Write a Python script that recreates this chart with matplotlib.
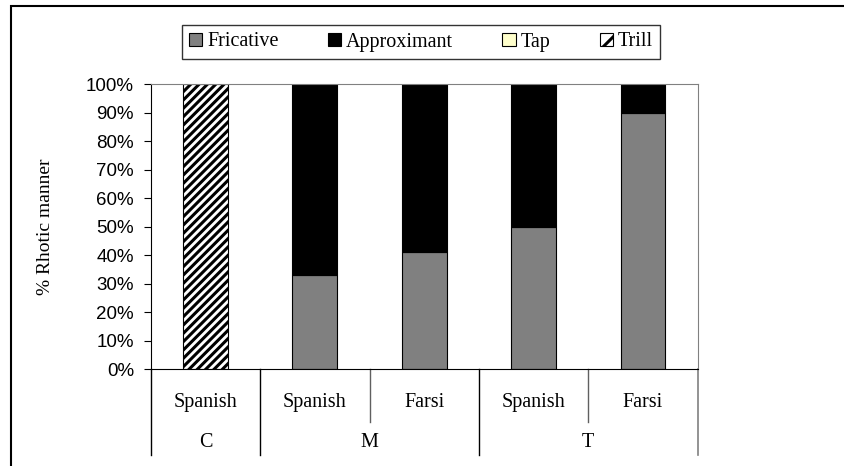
import matplotlib
matplotlib.use("Agg")
import matplotlib.pyplot as plt
import numpy as np
from matplotlib.patches import Patch, Rectangle

# data (percent of tokens)
groups = ["C", "M", "T"]
langs = ["Spanish", "Spanish", "Farsi", "Spanish", "Farsi"]
group_of = ["C", "M", "M", "T", "T"]
fricative = [0, 33, 41, 50, 90]
approximant = [0, 67, 59, 50, 10]
tap = [0, 0, 0, 0, 0]
trill = [100, 0, 0, 0, 0]

serif = "Liberation Serif"
sans = "Liberation Sans"
plt.rcParams["hatch.linewidth"] = 2.2

fig = plt.figure(figsize=(8.44, 4.66), dpi=100)
ax = fig.add_axes([150.7/844, 1-369.3/466, 547/844, 285.3/466])

x = np.arange(len(langs))
w = 0.41
fr = np.array(fricative)
ap = np.array(approximant)
tp = np.array(tap)
tr = np.array(trill)
ax.bar(x, fr, w, color="#808080", edgecolor="black", linewidth=0.8)
ax.bar(x, ap, w, bottom=fr, color="black", edgecolor="black", linewidth=0.8)
ax.bar(x, tp, w, bottom=fr+ap, color="#FFFFCC", edgecolor="black", linewidth=0.8)
ax.bar(x, tr, w, bottom=fr+ap+tp, color="white", edgecolor="black",
       hatch="////", linewidth=0.8)

ax.set_xlim(-0.5, len(langs)-0.5)
ax.set_ylim(0, 100)
ax.set_yticks(np.arange(0, 101, 10))
ax.set_yticklabels([f"{v}%" for v in range(0, 101, 10)], fontfamily=sans, fontsize=13.5)
ax.tick_params(axis="y", direction="out", length=5, width=0.8, pad=7)
ax.set_xticks([])
for s in ["top", "right"]:
    ax.spines[s].set_color("#808080")
ax.spines["left"].set_color("black")
ax.spines["bottom"].set_color("black")

ax.set_ylabel("% Rhotic manner", fontfamily=serif, fontsize=14, labelpad=23)

# multi-level category axis
trans = ax.get_xaxis_transform()
for i, lab in enumerate(langs):
    ax.text(i, -0.116, lab, transform=trans, ha="center", va="center",
            fontfamily=serif, fontsize=14.5)
for g in groups:
    idx = [i for i, gg in enumerate(group_of) if gg == g]
    ax.text(np.mean(idx), -0.256, g, transform=trans, ha="center", va="center",
            fontfamily=serif, fontsize=14.5)
for b in [0.5, 2.5]:
    ax.plot([b, b], [0, -0.30], transform=trans, color="black", lw=1, clip_on=False)
ax.plot([-0.5, -0.5], [0, -0.30], transform=trans, color="black", lw=1, clip_on=False)
ax.plot([4.5, 4.5], [0, -0.30], transform=trans, color="#808080", lw=1.2, clip_on=False)
for b in [1.5, 3.5]:
    ax.plot([b, b], [0, -0.183], transform=trans, color="#606060", lw=1, clip_on=False)

handles = [Patch(facecolor="#808080", edgecolor="black", lw=0.8, label="Fricative"),
           Patch(facecolor="black", edgecolor="black", lw=0.8, label="Approximant"),
           Patch(facecolor="#FFFFCC", edgecolor="black", lw=0.8, label="Tap"),
           Patch(facecolor="white", edgecolor="black", lw=0.8, hatch="//", label="Trill")]
leg = fig.legend(handles=handles, loc="center", bbox_to_anchor=(421/844, 1-42/466),
                 ncol=4, prop={"family": serif, "size": 14.5}, frameon=True,
                 fancybox=False, edgecolor="black", handlelength=0.65, handleheight=0.65,
                 handletextpad=0.25, columnspacing=2.45, borderpad=0.35)
leg.get_frame().set_linewidth(1.0)

# outer chart border
fig.add_artist(Rectangle((11/844, -0.1), 1.2, 1-6/466+0.1, transform=fig.transFigure,
                         fill=False, edgecolor="black", lw=1.5))

fig.savefig("out.png", dpi=100)
